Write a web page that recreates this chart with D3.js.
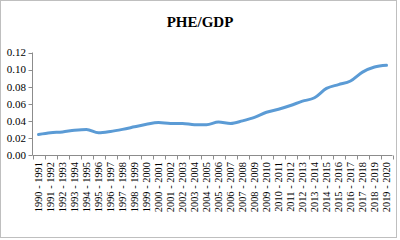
<!DOCTYPE html>
<html><head><meta charset="utf-8">
<script src="https://cdn.jsdelivr.net/npm/d3@7"></script>
<style>body{margin:0;background:#fff}svg{display:block}</style>
</head><body>
<svg id="c" width="400" height="240"></svg>
<script>
const categories = ["1990 - 1991","1991 - 1992","1992 - 1993","1993 - 1994","1994 - 1995","1995 - 1996","1996 - 1997","1997 - 1998","1998 - 1999","1999 - 2000","2000 - 2001","2001 - 2002","2002 - 2003","2003 - 2004","2004 - 2005","2005 - 2006","2006 - 2007","2007 - 2008","2008 - 2009","2009 - 2010","2010 - 2011","2011 - 2012","2012 - 2013","2013 - 2014","2014 - 2015","2015 - 2016","2016 - 2017","2017 - 2018","2018 - 2019","2019 - 2020"];
const pheGdp = [0.024,0.026,0.027,0.029,0.030,0.026,0.0275,0.030,0.033,0.036,0.038,0.037,0.037,0.0355,0.0355,0.0385,0.037,0.040,0.044,0.050,0.0536,0.058,0.063,0.067,0.078,0.0824,0.0866,0.097,0.103,0.105];
const yTicks = [0,0.02,0.04,0.06,0.08,0.10,0.12];
const title = "PHE/GDP";

const svg = d3.select("#c");
const axisColor = "#8c8c8c";
const serif = "'Liberation Serif','Times New Roman',serif";

svg.append("rect").attr("x",0.5).attr("y",0.5).attr("width",396).attr("height",237)
  .attr("fill","#fff").attr("stroke","#bfbfbf");

svg.append("text").attr("x",200).attr("y",27).attr("text-anchor","middle")
  .attr("font-family",serif).attr("font-weight","bold").attr("font-size",15)
  .text(title);

const x = d3.scaleBand().domain(categories).range([32.5,392.5]);
const y = d3.scaleLinear().domain([0,0.12]).range([155,52.5]);

// y axis
const ya = svg.append("g");
ya.append("line").attr("x1",32.5).attr("x2",32.5).attr("y1",y(0.12)).attr("y2",y(0)).attr("stroke",axisColor);
yTicks.forEach(t=>{
  ya.append("line").attr("x1",28.5).attr("x2",32.5).attr("y1",Math.round(y(t))+0.5).attr("y2",Math.round(y(t))+0.5).attr("stroke",axisColor);
  ya.append("text").attr("x",26).attr("y",y(t)).attr("dy","0.35em").attr("text-anchor","end")
    .attr("font-family",serif).attr("font-size",11).attr("fill","#000").text(t.toFixed(2));
});

// x axis
const xa = svg.append("g");
xa.append("line").attr("x1",x.range()[0]).attr("x2",x.range()[1]).attr("y1",155.5).attr("y2",155.5).attr("stroke",axisColor);
categories.forEach((c,i)=>{
  const bx = Math.round(x(c))+0.5;
  xa.append("line").attr("x1",bx).attr("x2",bx).attr("y1",155.5).attr("y2",159.5).attr("stroke",axisColor);
  if(i===categories.length-1){
    const ex = Math.round(x(c)+x.bandwidth())+0.5;
    xa.append("line").attr("x1",ex).attr("x2",ex).attr("y1",155.5).attr("y2",159.5).attr("stroke",axisColor);
  }
  const cx = x(c)+x.bandwidth()/2;
  xa.append("text").attr("transform",`translate(${cx},162) rotate(-90)`)
    .attr("dy","0.35em").attr("text-anchor","end")
    .attr("font-family",serif).attr("font-size",10.4).attr("fill","#000").text(c);
});

const line = d3.line().x((d,i)=>x(categories[i])+x.bandwidth()/2).y(d=>y(d)).curve(d3.curveMonotoneX);
svg.append("path").datum(pheGdp).attr("d",line).attr("fill","none")
  .attr("stroke","#5b9bd5").attr("stroke-width",3).attr("stroke-linecap","round").attr("stroke-linejoin","round");
</script>
</body></html>
